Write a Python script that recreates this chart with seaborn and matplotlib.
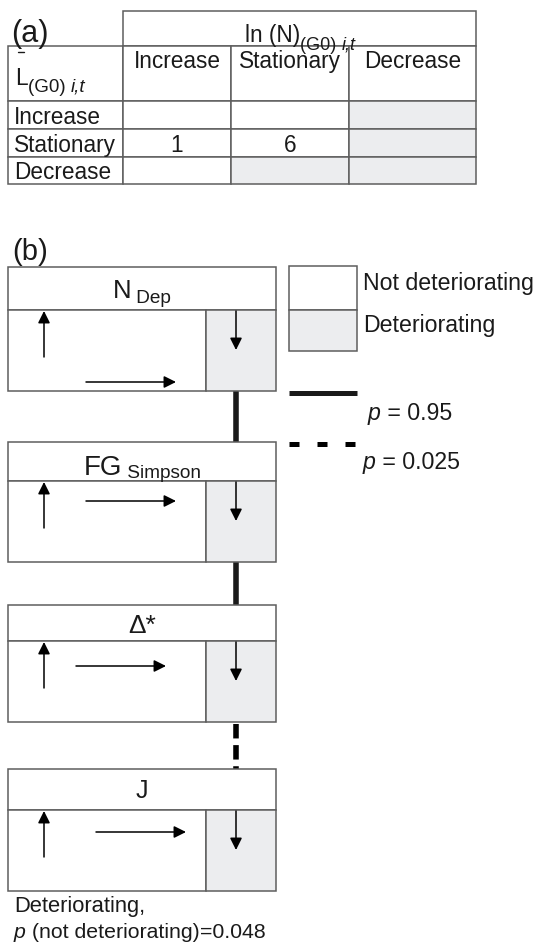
import matplotlib
matplotlib.use("Agg")
import matplotlib.pyplot as plt
import seaborn as sns
from matplotlib.patches import Rectangle

sns.set_theme(style="white")
plt.rcParams['font.family'] = ['Liberation Sans', 'DejaVu Sans']

# ---------------- data ----------------
row_labels = ["Increase", "Stationary", "Decrease"]
col_labels = ["Increase", "Stationary", "Decrease"]
counts = [[None, None, None],
          [1, 6, None],
          [None, None, None]]
deteriorating = [[False, False, True],
                 [False, False, True],
                 [False, True, True]]

indicators = [("N", "Dep"), ("FG", "Simpson"), ("\u0394*", ""), ("J", "")]
links = ["solid", "solid", "dashed"]          # between consecutive indicators
link_p = {"solid": "0.95", "dashed": "0.025"}
legend_boxes = ["Not deteriorating", "Deteriorating"]
final_note = ("Deteriorating,", "(not deteriorating)", "=0.048")

# ---------------- layout / style ----------------
W, H = 537, 945
GRAY = "#ECEDEF"
EDGE = "#5e5e5e"
TXT = "#1a1a1a"
FS = 16.3      # table
FSL = 16.7     # legend
FSN = 15.3     # note

fig = plt.figure(figsize=(W / 100, H / 100), dpi=100)
ax = fig.add_axes([0, 0, 1, 1])
ax.set_xlim(0, W)
ax.set_ylim(H, 0)
ax.axis("off")
renderer = fig.canvas.get_renderer()


def rich(x, y, pieces, ha="left"):
    """pieces: list of (text, size, style, dy)"""
    objs = []
    cx = x
    for txt, size, style, dy in pieces:
        t = ax.text(cx, y + dy, txt, fontsize=size, style=style,
                    ha="left", va="baseline", color=TXT)
        bb = t.get_window_extent(renderer=renderer)
        objs.append(t)
        cx += bb.width
    total = cx - x
    if ha == "center":
        for t in objs:
            px, py = t.get_position()
            t.set_position((px - total / 2, py))
    return objs


def rect(x0, y0, x1, y1, fc="white", ec=EDGE, lw=1.1):
    ax.add_patch(Rectangle((x0, y0), x1 - x0, y1 - y0, facecolor=fc,
                           edgecolor=ec, linewidth=lw, zorder=1))


def arrow(x0, y0, x1, y1):
    ax.annotate("", xy=(x1, y1), xytext=(x0, y0),
                arrowprops=dict(arrowstyle="-|>,head_length=0.6,head_width=0.3",
                                lw=1.1, color="black", shrinkA=0, shrinkB=0),
                zorder=3)


# ---------------- (a) table ----------------
cols_x = [8, 123, 231, 349, 476]
rows_y = [102, 130, 158, 185]
rect(123, 12, 476, 47)
rect(8, 47, 123, 102)
for j in range(3):
    rect(cols_x[j + 1], 47, cols_x[j + 2], 102)
for i in range(3):
    rect(8, rows_y[i], 123, rows_y[i + 1])
    for j in range(3):
        rect(cols_x[j + 1], rows_y[i], cols_x[j + 2], rows_y[i + 1],
             fc=GRAY if deteriorating[i][j] else "white")

ax.text(11, 42, "(a)", fontsize=22, va="baseline", color=TXT)
rich(300, 42, [("ln (N)", FS, "normal", 0), ("(G0) ", 13, "normal", 8),
               ("i,t", 13, "italic", 8)], ha="center")
rich(15, 85, [("L", FS, "normal", 0), ("(G0) ", 13.5, "normal", 7),
              ("i,t", 13.5, "italic", 7)])
ax.plot([17.5, 24], [53, 53], color=TXT, lw=1.0)
for j, lab in enumerate(col_labels):
    ax.text((cols_x[j + 1] + cols_x[j + 2]) / 2, 68, lab, fontsize=FS,
            ha="center", va="baseline", color=TXT)
row_base = [124, 152, 179]
for i, lab in enumerate(row_labels):
    ax.text(14, row_base[i], lab, fontsize=FS, va="baseline", color=TXT)
    for j in range(3):
        if counts[i][j] is not None:
            ax.text((cols_x[j + 1] + cols_x[j + 2]) / 2, row_base[i],
                    str(counts[i][j]), fontsize=FS, ha="center",
                    va="baseline", color=TXT)

# ---------------- (b) indicator boxes ----------------
ax.text(12, 260, "(b)", fontsize=21, va="baseline", color=TXT)
box_x0, box_split, box_x1 = 8, 206, 276
boxes = [(268, 311, 392), (443, 482, 563), (606, 642, 723), (770, 811, 892)]
title_base = [298, 475, 633, 798]
title_size = [18.5, 20, 19, 18]
sub_dy = [5, 3, 0, 0]
right_arrow_x = [(86, 176), (86, 176), (76, 166), (96, 186)]
right_arrow_y = [383, 502, 667, 833]
up_len = 45
down_len = 40

for k, (name, sub) in enumerate(indicators):
    yt, ym, yb = boxes[k]
    rect(box_x0, yt, box_x1, ym)
    rect(box_x0, ym, box_split, yb)
    rect(box_split, ym, box_x1, yb, fc=GRAY)
    pieces = [(name, title_size[k], "normal", 0)]
    if sub:
        pieces.append((" " + sub, 13.7, "normal", sub_dy[k]))
    rich((box_x0 + box_x1) / 2, title_base[k], pieces, ha="center")
    # arrows
    arrow(44, ym + up_len + 2, 44, ym + 1)
    ax_, bx_ = right_arrow_x[k]
    arrow(ax_, right_arrow_y[k], bx_, right_arrow_y[k])
    arrow(236, ym + 1, 236, ym + down_len)

for k, style in enumerate(links):
    y0 = boxes[k][2]
    y1 = boxes[k + 1][0]
    if style == "solid":
        ax.plot([236, 236], [y0, y1], color=TXT, lw=4, zorder=0,
                solid_capstyle="butt")
    else:
        ax.plot([236, 236], [y0 + 2, y1], color="black", lw=4, zorder=0,
                linestyle=(0, (2.6, 1.2)), dash_capstyle="butt")

# ---------------- legend ----------------
rect(289, 267, 357, 311)
rect(289, 311, 357, 352, fc=GRAY)
ax.text(363, 290, legend_boxes[0], fontsize=FSL, va="baseline", color=TXT)
ax.text(363, 332, legend_boxes[1], fontsize=FSL, va="baseline", color=TXT)
ax.plot([289, 357], [394, 394], color=TXT, lw=3.6, solid_capstyle="butt")
rich(368, 420, [("p", FSL, "italic", 0), (" = " + link_p["solid"], FSL, "normal", 0)])
ax.plot([289, 357], [445, 445], color="black", lw=3.6,
        linestyle=(0, (2.0, 3.6)), dash_capstyle="butt")
rich(363, 469, [("p", FSL, "italic", 0), (" = " + link_p["dashed"], FSL, "normal", 0)])

# ---------------- final note ----------------
ax.text(14, 912, final_note[0], fontsize=15.8, va="baseline", color=TXT)
rich(14, 938, [("p", FSN, "italic", 0), (" " + final_note[1], FSN, "normal", 0),
               (final_note[2], FSN, "normal", 0)])

fig.savefig("out.png", dpi=100)
